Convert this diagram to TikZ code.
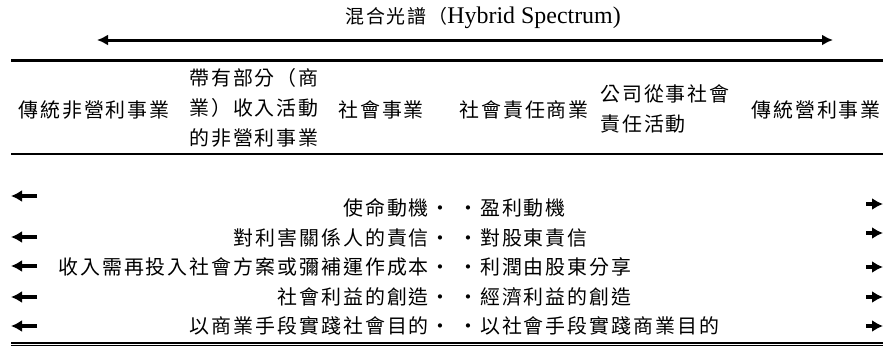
\documentclass[tikz,border=0pt]{standalone}
\usepackage{fontspec}
\setmainfont{Liberation Serif}
\newfontfamily\cjk[LetterSpace=10]{Noto Sans CJK TC}
\usetikzlibrary{arrows.meta}

\begin{document}
\begin{tikzpicture}[x=1bp,y=-1bp,
    cell/.style={inner sep=0pt,font=\cjk\fontsize{20}{30}\selectfont,align=left},
    rule/.style={line width=2.2bp},
    spanarrow/.style={line width=3bp,{Latex[length=11bp,width=11bp]}-{Latex[length=11bp,width=11bp]}},
    rowarrow/.style={line width=3.5bp,-{Latex[length=11bp,width=12bp]}}]
  \useasboundingbox (0,0) rectangle (883,347);

  % Title and spectrum arrow
  \node[inner sep=0pt] (title) at (483,18) {{\cjk\fontsize{19}{20}\selectfont 混合光譜（}\fontsize{24}{28}\selectfont Hybrid Spectrum)};
  \coordinate (spanL) at (97,40);
  \coordinate (spanR) at (833,40);
  \draw[spanarrow] (spanL) -- (spanR);

  % Header
  \draw[rule] (11,60.5) -- (883,60.5);
  \node[cell] (h1) at (94,110) {傳統非營利事業};
  \node[cell,anchor=west] (h2) at (189,108) {帶有部分（商\\業）收入活動\\的非營利事業};
  \node[cell] (h3) at (381,110) {社會事業};
  \node[cell] (h4) at (524,110) {社會責任商業};
  \node[cell,anchor=west] (h5) at (600,109) {公司從事社會\\責任活動};
  \node[cell] (h6) at (816,110) {傳統營利事業};
  \draw[rule,line width=2bp] (11,154) -- (883,154);

  % Mission side
  \node[cell,anchor=east] (m1) at (451,208) {使命動機・};
  \node[cell,anchor=east] (m2) at (451,238) {對利害關係人的責信・};
  \node[cell,anchor=east] (m3) at (451,267) {收入需再投入社會方案或彌補運作成本・};
  \node[cell,anchor=east] (m4) at (451,297) {社會利益的創造・};
  \node[cell,anchor=east] (m5) at (451,326) {以商業手段實踐社會目的・};

  % Profit side
  \node[cell,anchor=west] (p1) at (458,208) {・盈利動機};
  \node[cell,anchor=west] (p2) at (458,238) {・對股東責信};
  \node[cell,anchor=west] (p3) at (458,267) {・利潤由股東分享};
  \node[cell,anchor=west] (p4) at (458,297) {・經濟利益的創造};
  \node[cell,anchor=west] (p5) at (458,326) {・以社會手段實踐商業目的};

  % Row arrows
  \foreach \i/\ly/\ry in {1/196/204, 2/237/233, 3/266/267, 4/297/297, 5/326/326} {
    \coordinate (ls\i) at (37,\ly);
    \coordinate (le\i) at (11,\ly);
    \draw[rowarrow] (ls\i) -- (le\i);
    \coordinate (rs\i) at (866,\ry);
    \coordinate (re\i) at (883,\ry);
    \draw[rowarrow] (rs\i) -- (re\i);
  }

  % Closing rule
  \draw[line width=1.8bp] (11,342.8) -- (883,342.8);
  \draw[line width=1bp] (11,345.6) -- (883,345.6);
\end{tikzpicture}
\end{document}
